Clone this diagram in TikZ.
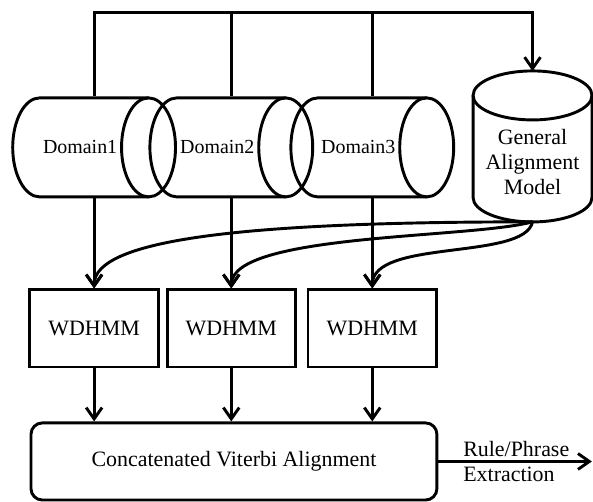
\documentclass[tikz,border=0pt]{standalone}
\usepackage{fontspec}
\setmainfont{Liberation Serif}
\usetikzlibrary{positioning,shapes,arrows.meta}
\tikzset{dom/.style={rectangle,minimum height=2.62cm,inner sep=0pt,font=\fontsize{15}{18}\selectfont},
gen/.style={align=center,inner sep=0pt,font=\fontsize{16.5}{19}\selectfont},
hmm/.style={draw,rectangle,minimum width=3.4cm,minimum height=2.04cm,font=\fontsize{16.5}{19}\selectfont},
flow/.style={-{Straight Barb[length=3mm,width=4.2mm]}}}

\begin{document}
\begin{tikzpicture}[line width=2.2pt]
\useasboundingbox (0,0) rectangle (15.69,13.28);
\coordinate (bus) at (0,12.96);
% domain corpora as lying cylinders
\foreach \x/\n in {2.49/1,6.12/2,9.85/3}{
  \draw (\x+1.44,10.69) -- (\x-1.44,10.69) arc[start angle=90,end angle=270,x radius=0.714,y radius=1.31] -- (\x+1.44,8.07);
  \draw (\x+1.44,9.38) ellipse[x radius=0.714,y radius=1.31];
  \node[dom] (d\n) at (\x-0.37,9.38) {Domain\n};
}
% general model as standing cylinder
\draw (12.516,10.755) -- (12.516,8.056) arc[start angle=180,end angle=360,x radius=1.574,y radius=0.648] -- (15.664,10.755);
\draw (14.09,10.755) ellipse[x radius=1.574,y radius=0.648];
\node[gen] (gam) at (14.09,9.0) {General\\Alignment\\Model};
\coordinate (gamtop) at (14.09,11.40);
\coordinate (gambot) at (14.09,7.41);
\node[hmm] (w1) at (2.49,4.59) {WDHMM};
\node[hmm] (w2) at (6.12,4.59) {WDHMM};
\node[hmm] (w3) at (9.85,4.59) {WDHMM};
\node[draw,rounded corners=0.3cm,minimum width=10.74cm,minimum height=2.04cm,font=\fontsize{16.5}{19}\selectfont] (cva) at (6.19,1.07) {Concatenated Viterbi Alignment};
% corpus lines on top
\draw[flow] (w1.north |- d1.north) |- (gamtop |- bus) -- (gamtop);
\draw (w2.north |- d2.north) -- (w2.north |- bus);
\draw (w3.north |- d3.north) -- (w3.north |- bus);
% domains to WDHMM
\draw[flow] (w1.north |- d1.south) -- (w1.north);
\draw[flow] (w2.north |- d2.south) -- (w2.north);
\draw[flow] (w3.north |- d3.south) -- (w3.north);
% general model to WDHMM
\draw[flow] (gambot) .. controls +(-7.49,0) and +(0,1.32) .. (w1.north);
\draw[flow] (gambot) .. controls +(-1.67,-0.45) and +(0,1.46) .. (w2.north);
\draw[flow] (gambot) .. controls +(-0.21,-1.03) and +(0,1.32) .. (w3.north);
% WDHMM to concatenation
\draw[flow] (w1.south) -- (w1.south |- cva.north);
\draw[flow] (w2.south) -- (w2.south |- cva.north);
\draw[flow] (w3.south) -- (w3.south |- cva.north);
\coordinate (out) at (15.66,1.07);
\draw[flow] (cva.east) -- (out);
\node[anchor=west,align=left,inner sep=0pt,font=\fontsize{16.5}{19.5}\selectfont] (rpe) at (12.22,1.07) {Rule/Phrase\\Extraction};
\end{tikzpicture}
\end{document}
